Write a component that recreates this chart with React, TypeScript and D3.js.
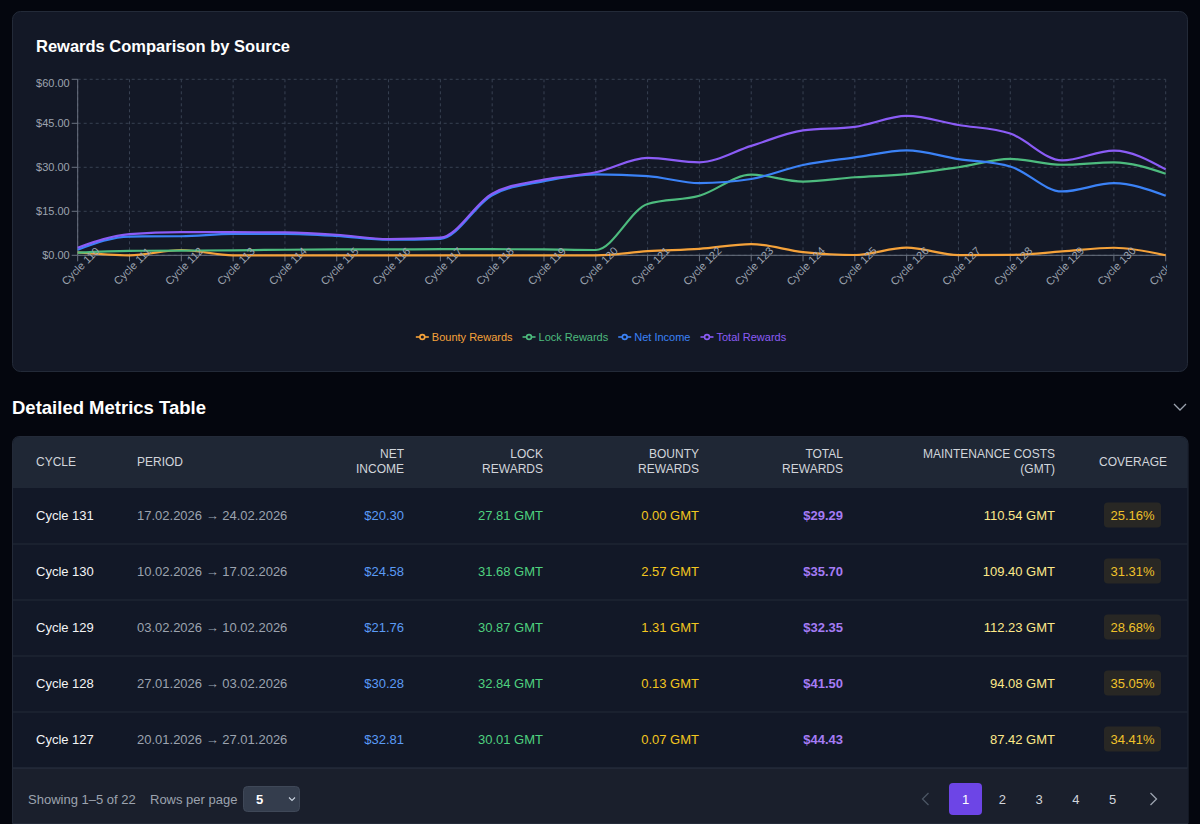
import React, { useMemo } from "react";
import * as d3 from "d3";

// ---------- Chart data ----------
const cycles = [
  "Cycle 110", "Cycle 111", "Cycle 112", "Cycle 113", "Cycle 114", "Cycle 115",
  "Cycle 116", "Cycle 117", "Cycle 118", "Cycle 119", "Cycle 120", "Cycle 121",
  "Cycle 122", "Cycle 123", "Cycle 124", "Cycle 125", "Cycle 126", "Cycle 127",
  "Cycle 128", "Cycle 129", "Cycle 130", "Cycle 131",
];
const bountyRewards = [1.0, 0, 1.8, 0, 0, 0, 0, 0, 0, 0, 0, 1.4, 2.2, 3.8, 1.1, 0.1, 2.6, 0.07, 0.13, 1.31, 2.57, 0.0];
const lockRewards = [0.9, 1.5, 1.6, 1.7, 1.9, 2.0, 2.0, 2.1, 2.1, 2.0, 1.8, 17.5, 20.3, 27.5, 25.1, 26.6, 27.7, 30.01, 32.84, 30.87, 31.68, 27.81];
const netIncome = [1.9, 6.4, 6.5, 7.3, 7.3, 6.6, 5.3, 5.6, 20.5, 25.3, 27.6, 27.0, 24.6, 26.0, 30.8, 33.4, 35.8, 32.81, 30.28, 21.76, 24.58, 20.3];
const totalRewards = [2.6, 7.2, 7.9, 7.9, 7.8, 7.0, 5.5, 6.0, 21.0, 25.8, 28.3, 33.2, 31.7, 37.3, 42.6, 43.8, 47.5, 44.43, 41.5, 32.35, 35.7, 29.29];
const yTicks = [0, 15, 30, 45, 60];

const seriesNames = ["Bounty Rewards", "Lock Rewards", "Net Income", "Total Rewards"];
const seriesColors = ["#f5a23a", "#4dbb7e", "#3b82f6", "#8b5cf6"];
const seriesValues = [bountyRewards, lockRewards, netIncome, totalRewards];

// ---------- Table data ----------
const tableHeaders = ["CYCLE", "PERIOD", "NET|INCOME", "LOCK|REWARDS", "BOUNTY|REWARDS", "TOTAL|REWARDS", "MAINTENANCE COSTS|(GMT)", "COVERAGE"];
const tableCycles = ["Cycle 131", "Cycle 130", "Cycle 129", "Cycle 128", "Cycle 127"];
const tablePeriods = [
  "17.02.2026 → 24.02.2026",
  "10.02.2026 → 17.02.2026",
  "03.02.2026 → 10.02.2026",
  "27.01.2026 → 03.02.2026",
  "20.01.2026 → 27.01.2026",
];
const tableNet = [20.3, 24.58, 21.76, 30.28, 32.81];
const tableLock = [27.81, 31.68, 30.87, 32.84, 30.01];
const tableBounty = [0.0, 2.57, 1.31, 0.13, 0.07];
const tableTotal = [29.29, 35.7, 32.35, 41.5, 44.43];
const tableMaint = [110.54, 109.4, 112.23, 94.08, 87.42];
const tableCoverage = [25.16, 31.31, 28.68, 35.05, 34.41];
const pages = [1, 2, 3, 4, 5];

const FONT = "'Liberation Sans', Arial, Helvetica, sans-serif";

function measure(text: string, font: string): number {
  if (typeof document === "undefined") return text.length * 6;
  const c = document.createElement("canvas");
  const ctx = c.getContext("2d");
  if (!ctx) return text.length * 6;
  ctx.font = font;
  return ctx.measureText(text).width;
}

export default function App() {
  const W = 1200;
  const H = 824;
  const plotLeft = 77.7;
  const plotRight = 1165.7;
  const plotTop = 79.3;
  const plotBottom = 255.3;

  const x = d3.scalePoint<string>().domain(cycles).range([plotLeft, plotRight]).padding(0);
  const y = d3.scaleLinear().domain([0, 60]).range([plotBottom, plotTop]);

  const lineGen = d3
    .line<number>()
    .x((_, i) => x(cycles[i]) as number)
    .y((d) => y(d))
    .curve(d3.curveMonotoneX);

  const legend = useMemo(() => {
    const font = `11px ${FONT}`;
    const widths = seriesNames.map((n) => measure(n, font));
    const itemW = widths.map((w) => 16 + w + 10);
    const total = itemW.reduce((a, b) => a + b, 0) - 10;
    let cx = 601 - total / 2;
    return seriesNames.map((n, i) => {
      const item = { x: cx, name: n, color: seriesColors[i] };
      cx += itemW[i];
      return item;
    });
  }, []);

  const headerX = [36, 137, 404, 543, 699, 843, 1055, 1099];
  const headerAnchor = ["start", "start", "end", "end", "end", "end", "end", "start"];
  const rowTop = 488;
  const rowH = 56;

  const fmt2 = d3.format(".2f");

  return (
    <div style={{ position: "absolute", left: 0, top: 0, width: W, height: H, background: "#04060e", overflow: "hidden" }}>
      <svg width={W} height={H} style={{ display: "block", fontFamily: FONT }}>
        <defs>
          <clipPath id="xlabels">
            <rect x={0} y={200} width={1167} height={140} />
          </clipPath>
        </defs>
        <rect x={0} y={0} width={W} height={H} fill="#04060e" />

        {/* Chart card */}
        <rect x={12.5} y={11.5} width={1175} height={360} rx={8} fill="#131826" stroke="#232a38" />
        <text x={36} y={52} fill="#ffffff" fontSize={16.5} fontWeight={700}>
          Rewards Comparison by Source
        </text>

        {/* grid */}
        <g stroke="#384152" strokeDasharray="3 3" strokeWidth={1}>
          {yTicks.map((t) => (
            <line key={"h" + t} x1={plotLeft} x2={plotRight} y1={y(t)} y2={y(t)} />
          ))}
          {cycles.map((c) => (
            <line key={"v" + c} x1={x(c)} x2={x(c)} y1={plotTop} y2={plotBottom} />
          ))}
        </g>

        {/* Y axis */}
        <line x1={plotLeft} x2={plotLeft} y1={plotTop} y2={plotBottom} stroke="#6b7280" />
        {yTicks.map((t) => (
          <g key={"yt" + t}>
            <line x1={plotLeft - 6} x2={plotLeft} y1={y(t)} y2={y(t)} stroke="#6b7280" />
            <text x={plotLeft - 8} y={y(t) + (t === 60 ? 4 : 0)} dy="0.355em" textAnchor="end" fill="#9ca3af" fontSize={11}>
              {"$" + fmt2(t)}
            </text>
          </g>
        ))}

        {/* X axis */}
        <line x1={plotLeft} x2={plotRight} y1={plotBottom} y2={plotBottom} stroke="#6b7280" />
        {cycles.map((c) => {
          const cx = x(c) as number;
          return <line key={"xtl" + c} x1={cx} x2={cx} y1={plotBottom} y2={plotBottom + 6} stroke="#6b7280" />;
        })}

        {/* lines */}
        {seriesValues.map((vals, i) => (
          <path key={seriesNames[i]} d={lineGen(vals) || ""} fill="none" stroke={seriesColors[i]} strokeWidth={2.2} />
        ))}

        <g clipPath="url(#xlabels)">
          {cycles.map((c) => {
            const cx = x(c) as number;
            const ty = plotBottom + 8;
            return (
              <text
                key={"xt" + c}
                x={cx}
                y={ty}
                dy="0.71em"
                textAnchor="middle"
                fill="#9ca3af"
                fontSize={11}
                transform={`rotate(-45, ${cx}, ${ty})`}
              >
                {c}
              </text>
            );
          })}
        </g>

        {/* legend */}
        {legend.map((l) => (
          <g key={"lg" + l.name}>
            <line x1={l.x} x2={l.x + 13} y1={337} y2={337} stroke={l.color} strokeWidth={1.6} />
            <circle cx={l.x + 6.5} cy={337} r={2.4} fill="#131826" stroke={l.color} strokeWidth={1.6} />
            <text x={l.x + 16} y={337} dy="0.355em" fill={l.color} fontSize={11}>
              {l.name}
            </text>
          </g>
        ))}

        {/* Section title */}
        <text x={12} y={414} fill="#ffffff" fontSize={18.5} fontWeight={700}>
          Detailed Metrics Table
        </text>
        <path d="M1174,404 L1180,410 L1186,404" fill="none" stroke="#9ca3af" strokeWidth={1.3} />

        {/* Table card */}
        <path d="M12.5,823.5 L12.5,444 Q12.5,436.5 20,436.5 L1180,436.5 Q1188,436.5 1188,444 L1188,823.5 Z" fill="#121827" stroke="#232a38" />
        <path d="M13,488 L13,444 Q13,437 20,437 L1180,437 Q1187.5,437 1187.5,444 L1187.5,488 Z" fill="#1f2735" />
        {tableHeaders.map((h, i) => {
          const parts = h.split("|");
          return (
            <text key={"th" + i} x={headerX[i]} y={parts.length > 1 ? 454 : 462} dy="0.355em" textAnchor={headerAnchor[i] as any} fill="#d1d5db" fontSize={12}>
              {parts.map((p, j) => (
                <tspan key={j} x={headerX[i]} dy={j === 0 ? "0.355em" : 15}>
                  {p}
                </tspan>
              ))}
            </text>
          );
        })}

        {tableCycles.map((c, r) => {
          const cy = rowTop + r * rowH + rowH / 2 - 1;
          const cov = fmt2(tableCoverage[r]) + "%";
          const covW = measure(cov, `13px ${FONT}`) + 13;
          return (
            <g key={"row" + c}>
              {r > 0 && <line x1={13} x2={1187.5} y1={rowTop + r * rowH} y2={rowTop + r * rowH} stroke="#232a38" />}
              <text x={36} y={cy} dy="0.355em" fill="#f3f4f6" fontSize={13} fontWeight={500}>{c}</text>
              <text x={137} y={cy} dy="0.355em" fill="#9ca3af" fontSize={13}>{tablePeriods[r]}</text>
              <text x={404} y={cy} dy="0.355em" textAnchor="end" fill="#5b9bf6" fontSize={13}>{"$" + fmt2(tableNet[r])}</text>
              <text x={543} y={cy} dy="0.355em" textAnchor="end" fill="#4fd17f" fontSize={13}>{fmt2(tableLock[r]) + " GMT"}</text>
              <text x={699} y={cy} dy="0.355em" textAnchor="end" fill="#f3c61f" fontSize={13}>{fmt2(tableBounty[r]) + " GMT"}</text>
              <text x={843} y={cy} dy="0.355em" textAnchor="end" fill="#a57cf5" fontSize={13} fontWeight={700}>{"$" + fmt2(tableTotal[r])}</text>
              <text x={1055} y={cy} dy="0.355em" textAnchor="end" fill="#fde98a" fontSize={13}>{fmt2(tableMaint[r]) + " GMT"}</text>
              <rect x={1132.5 - covW / 2} y={cy - 12.5} width={covW} height={25} rx={4} fill="rgba(234,179,8,0.1)" />
              <text x={1132.5} y={cy} dy="0.355em" textAnchor="middle" fill="#f0c22a" fontSize={13}>{cov}</text>
            </g>
          );
        })}

        {/* Footer */}
        <rect x={13} y={768} width={1174.5} height={55} fill="#1a1f2c" />
        <line x1={13} x2={1187.5} y1={768} y2={768} stroke="#2b3342" />
        <text x={28} y={799} dy="0.355em" fill="#9ca3af" fontSize={13}>Showing 1–5 of 22</text>
        <text x={150} y={799} dy="0.355em" fill="#9ca3af" fontSize={13}>Rows per page</text>
        <rect x={243.5} y={786.5} width={56} height={25} rx={4} fill="#343d4d" stroke="#3f4858" />
        <text x={256} y={799} dy="0.355em" fill="#ffffff" fontSize={13} fontWeight={700}>5</text>
        <path d="M289,797.5 L292,800.5 L295,797.5" fill="none" stroke="#cbd5e1" strokeWidth={1.1} />

        <path d="M928.5,793 L922.5,799 L928.5,805" fill="none" stroke="#4b5563" strokeWidth={1.3} />
        {pages.map((p, i) => {
          const cx = 965.5 + i * 36.8;
          const active = p === 1;
          return (
            <g key={"pg" + p}>
              {active && <rect x={cx - 16.5} y={783} width={33} height={32} rx={4} fill="#6d45e6" />}
              <text x={cx} y={799} dy="0.355em" textAnchor="middle" fill={active ? "#ffffff" : "#d1d5db"} fontSize={13}>
                {p}
              </text>
            </g>
          );
        })}
        <path d="M1150.5,793 L1156.5,799 L1150.5,805" fill="none" stroke="#9ca3af" strokeWidth={1.3} />
      </svg>
    </div>
  );
}
